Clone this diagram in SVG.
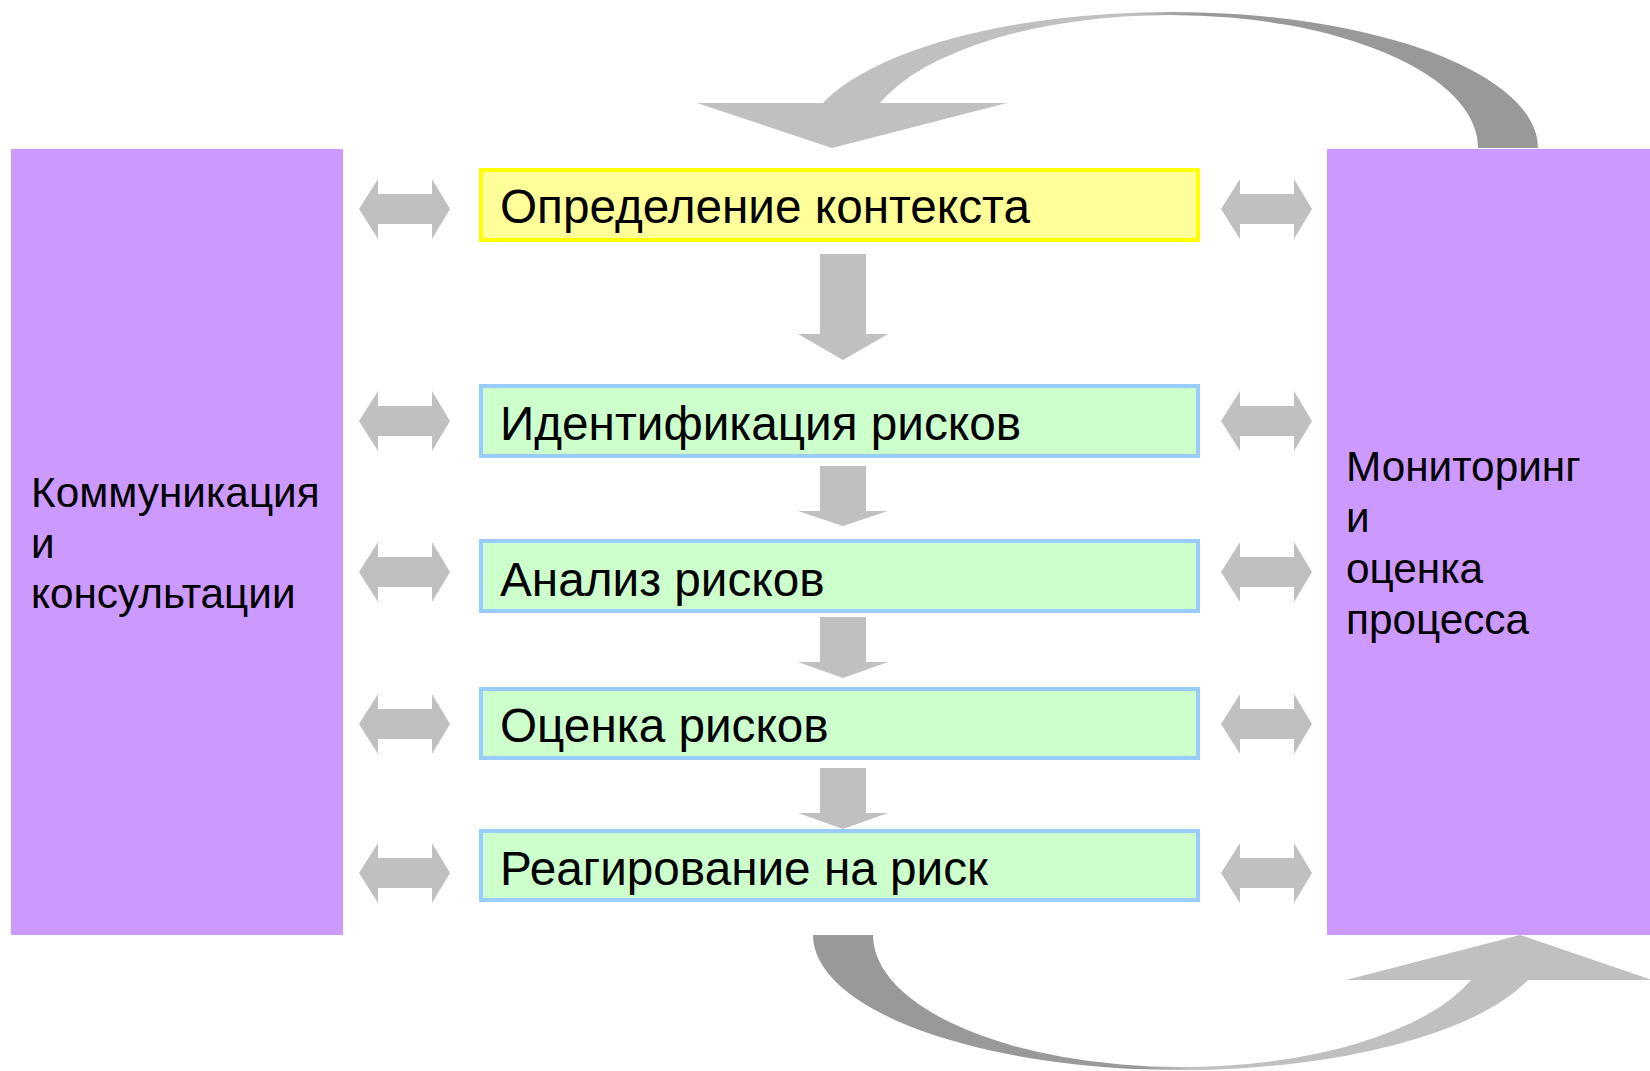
<svg xmlns="http://www.w3.org/2000/svg" width="1650" height="1071" viewBox="0 0 1650 1071">
<style>
.side{fill:#CC99FF}
.step{fill:#CCFFCC;stroke:#99CCFF;stroke-width:4}
.ctx{fill:#FFFF99;stroke:#FFFF00;stroke-width:4}
.arr{fill:#C0C0C0}
.t{font-family:"Liberation Sans",Arial,sans-serif;fill:#000}
.tm{font-size:47.7px}
.ts{font-size:42.3px}
</style>
<defs>
<path id="dbl" d="M0 0 L19 -30 L19 -15 L73 -15 L73 -30 L91 0 L73 30 L73 15 L19 15 L19 30 Z"/>
<linearGradient id="gTop" gradientUnits="userSpaceOnUse" x1="1130" y1="0" x2="1195" y2="0">
<stop offset="0" stop-color="#C0C0C0"/><stop offset="1" stop-color="#999999"/>
</linearGradient>
<linearGradient id="gBot" gradientUnits="userSpaceOnUse" x1="1140" y1="0" x2="1190" y2="0">
<stop offset="0" stop-color="#999999"/><stop offset="1" stop-color="#C0C0C0"/>
</linearGradient>
</defs>
<rect width="1650" height="1071" fill="#FFFFFF"/>

<g id="connectors">
<path id="loop-top" fill="url(#gTop)" d="M1538 148 A368 136 0 0 0 1170 12 A368 136 0 0 0 823 103 L697 103 L832 148 L1007 103 L880 103 A308 133 0 0 1 1170 15 A308 133 0 0 1 1478 148 Z"/>
<path id="loop-bottom" fill="url(#gBot)" d="M813 935 A368 135 0 0 0 1181 1070 A368 135 0 0 0 1528 980 L1652 980 L1520 935 L1346 980 L1471 980 A308 132 0 0 1 1181 1067 A308 132 0 0 1 873 935 Z"/>
<path class="arr" d="M820 254 H866 V334 H888 L843 360 L798 334 H820 Z"/>
<path class="arr" d="M820 466 H866 V511 H888 L843 526 L798 511 H820 Z"/>
<path class="arr" d="M820 617 H866 V662 H888 L843 678 L798 662 H820 Z"/>
<path class="arr" d="M820 768 H866 V813 H888 L843 829 L798 813 H820 Z"/>
<use href="#dbl" class="arr" transform="translate(359 209)"/>
<use href="#dbl" class="arr" transform="translate(359 421)"/>
<use href="#dbl" class="arr" transform="translate(359 572)"/>
<use href="#dbl" class="arr" transform="translate(359 724)"/>
<use href="#dbl" class="arr" transform="translate(359 873)"/>
<use href="#dbl" class="arr" transform="translate(1221 209)"/>
<use href="#dbl" class="arr" transform="translate(1221 421)"/>
<use href="#dbl" class="arr" transform="translate(1221 572)"/>
<use href="#dbl" class="arr" transform="translate(1221 724)"/>
<use href="#dbl" class="arr" transform="translate(1221 873)"/>
</g>

<g id="comm">
<rect class="side" x="11" y="149" width="332" height="786"/>
<text class="t ts" x="31"><tspan x="31" y="507">Коммуникация</tspan><tspan x="31" y="558">и</tspan><tspan x="31" y="608">консультации</tspan></text>
</g>

<g id="monitor">
<rect class="side" x="1327" y="149" width="323" height="786"/>
<text class="t ts" x="1346"><tspan x="1346" y="481">Мониторинг</tspan><tspan x="1346" y="532">и</tspan><tspan x="1346" y="583">оценка</tspan><tspan x="1346" y="634">процесса</tspan></text>
</g>

<g id="context">
<rect class="ctx" x="481" y="170" width="717" height="70"/>
<text class="t tm" x="500" y="223">Определение контекста</text>
</g>

<g id="identify">
<rect class="step" x="481" y="386" width="717" height="70"/>
<text class="t tm" x="500" y="440">Идентификация рисков</text>
</g>

<g id="analyze">
<rect class="step" x="481" y="541" width="717" height="70"/>
<text class="t tm" x="500" y="596">Анализ рисков</text>
</g>

<g id="evaluate">
<rect class="step" x="481" y="689" width="717" height="69"/>
<text class="t tm" x="500" y="742">Оценка рисков</text>
</g>

<g id="treat">
<rect class="step" x="481" y="831" width="717" height="69"/>
<text class="t tm" x="500" y="885">Реагирование на риск</text>
</g>
</svg>
